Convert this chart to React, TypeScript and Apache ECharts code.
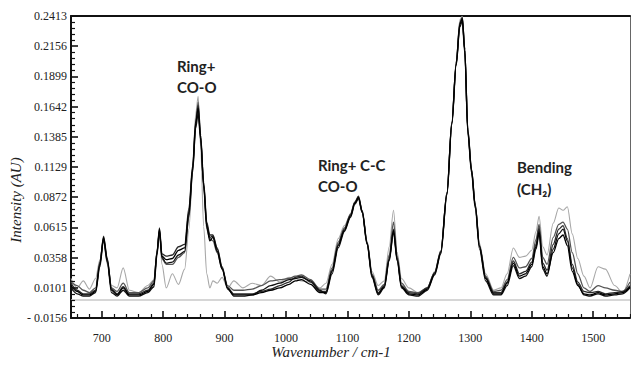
import React, { useEffect, useRef } from "react";
import * as echarts from "echarts";

// Raman shift grid (cm-1) shared by all spectra
const wavenumbers = [
  650, 660, 670, 680, 690, 697, 703, 709, 716, 725,
  735, 745, 760, 775, 785, 790, 794, 798, 805, 815,
  825, 835, 842, 848, 853, 857, 861, 866, 871, 876,
  881, 888, 896, 905, 915, 930, 945, 960, 975, 990,
  1005, 1015, 1025, 1040, 1055, 1065, 1075, 1085, 1095, 1105,
  1112, 1118, 1124, 1132, 1140, 1150, 1160, 1168, 1175, 1181,
  1188, 1200, 1215, 1230, 1242, 1252, 1262, 1270, 1277, 1283,
  1287, 1291, 1296, 1302, 1308, 1315, 1325, 1338, 1350, 1360,
  1370, 1380, 1390, 1400, 1407, 1412, 1418, 1425, 1435, 1444,
  1451, 1458, 1466, 1475, 1485, 1495, 1508, 1520, 1535, 1548,
  1560,
];

const spectrumA = [
  0.012, 0.007, 0.004, 0.004, 0.007, 0.030, 0.053, 0.034, 0.008, 0.004,
  0.010, 0.004, 0.004, 0.007, 0.013, 0.040, 0.060, 0.037, 0.034, 0.035,
  0.042, 0.044, 0.075, 0.112, 0.150, 0.163, 0.138, 0.097, 0.062, 0.050,
  0.053, 0.041, 0.026, 0.009, 0.004, 0.004, 0.004, 0.006, 0.008, 0.010,
  0.013, 0.016, 0.017, 0.013, 0.006, 0.006, 0.024, 0.046, 0.059, 0.071,
  0.082, 0.087, 0.075, 0.048, 0.020, 0.005, 0.011, 0.034, 0.059, 0.034,
  0.011, 0.005, 0.004, 0.009, 0.022, 0.040, 0.090, 0.150, 0.200, 0.234,
  0.239, 0.212, 0.143, 0.110, 0.080, 0.045, 0.018, 0.005, 0.005, 0.014,
  0.031, 0.020, 0.022, 0.030, 0.045, 0.058, 0.028, 0.022, 0.040, 0.052,
  0.055, 0.046, 0.024, 0.012, 0.005, 0.004, 0.006, 0.004, 0.005, 0.006,
  0.011,
];

const spectrumB = [
  0.010, 0.005, 0.003, 0.003, 0.006, 0.028, 0.051, 0.032, 0.006, 0.003,
  0.008, 0.003, 0.003, 0.006, 0.011, 0.038, 0.058, 0.036, 0.031, 0.032,
  0.038, 0.041, 0.072, 0.110, 0.146, 0.158, 0.136, 0.098, 0.064, 0.053,
  0.054, 0.043, 0.027, 0.010, 0.003, 0.003, 0.004, 0.008, 0.012, 0.014,
  0.017, 0.018, 0.019, 0.016, 0.008, 0.005, 0.022, 0.044, 0.058, 0.070,
  0.081, 0.086, 0.074, 0.047, 0.019, 0.004, 0.010, 0.033, 0.057, 0.033,
  0.010, 0.004, 0.003, 0.008, 0.021, 0.039, 0.089, 0.149, 0.199, 0.232,
  0.237, 0.210, 0.142, 0.108, 0.078, 0.043, 0.016, 0.004, 0.004, 0.012,
  0.029, 0.018, 0.020, 0.028, 0.043, 0.056, 0.026, 0.020, 0.043, 0.056,
  0.060, 0.050, 0.027, 0.013, 0.004, 0.003, 0.005, 0.003, 0.004, 0.005,
  0.010,
];

const spectrumC = [
  0.014, 0.008, 0.005, 0.005, 0.008, 0.031, 0.054, 0.035, 0.009, 0.005,
  0.011, 0.005, 0.005, 0.008, 0.014, 0.041, 0.061, 0.039, 0.037, 0.038,
  0.045, 0.047, 0.078, 0.114, 0.152, 0.165, 0.140, 0.100, 0.066, 0.055,
  0.055, 0.044, 0.028, 0.010, 0.005, 0.005, 0.005, 0.007, 0.009, 0.012,
  0.015, 0.019, 0.020, 0.015, 0.007, 0.007, 0.025, 0.047, 0.060, 0.072,
  0.083, 0.088, 0.076, 0.049, 0.021, 0.006, 0.012, 0.035, 0.060, 0.035,
  0.012, 0.006, 0.005, 0.010, 0.023, 0.041, 0.091, 0.151, 0.201, 0.235,
  0.240, 0.213, 0.144, 0.111, 0.081, 0.046, 0.019, 0.006, 0.006, 0.015,
  0.033, 0.022, 0.024, 0.032, 0.047, 0.061, 0.031, 0.025, 0.047, 0.060,
  0.063, 0.052, 0.030, 0.015, 0.007, 0.006, 0.007, 0.005, 0.006, 0.007,
  0.012,
];

const spectrumD = [
  0.015, 0.012, 0.008, 0.006, 0.010, 0.032, 0.052, 0.033, 0.010, 0.007,
  0.014, 0.006, 0.006, 0.010, 0.016, 0.040, 0.059, 0.035, 0.030, 0.030,
  0.036, 0.040, 0.070, 0.108, 0.148, 0.168, 0.140, 0.095, 0.060, 0.052,
  0.050, 0.040, 0.026, 0.012, 0.008, 0.008, 0.009, 0.012, 0.016, 0.017,
  0.018, 0.020, 0.021, 0.017, 0.009, 0.009, 0.027, 0.049, 0.061, 0.073,
  0.083, 0.087, 0.075, 0.048, 0.022, 0.008, 0.013, 0.038, 0.066, 0.037,
  0.014, 0.007, 0.006, 0.010, 0.023, 0.041, 0.091, 0.151, 0.201, 0.236,
  0.240, 0.213, 0.145, 0.111, 0.080, 0.046, 0.020, 0.007, 0.008, 0.017,
  0.036, 0.027, 0.028, 0.035, 0.051, 0.064, 0.036, 0.030, 0.053, 0.064,
  0.066, 0.060, 0.040, 0.022, 0.010, 0.007, 0.012, 0.010, 0.008, 0.007,
  0.015,
];

const spectrumLight = [
  0.018, 0.010, 0.016, 0.009, 0.018, 0.034, 0.050, 0.030, 0.012, 0.010,
  0.027, 0.008, 0.006, 0.012, 0.017, 0.042, 0.058, 0.030, 0.010, 0.022,
  0.013, 0.026, 0.060, 0.110, 0.158, 0.173, 0.130, 0.062, 0.022, 0.010,
  0.016, 0.014, 0.019, 0.010, 0.016, 0.010, 0.014, 0.012, 0.020, 0.015,
  0.019, 0.018, 0.016, 0.015, 0.010, 0.014, 0.030, 0.052, 0.063, 0.072,
  0.082, 0.086, 0.074, 0.050, 0.024, 0.012, 0.016, 0.045, 0.076, 0.040,
  0.018, 0.010, 0.006, 0.010, 0.024, 0.042, 0.092, 0.152, 0.203, 0.238,
  0.241, 0.215, 0.146, 0.110, 0.082, 0.048, 0.022, 0.008, 0.010, 0.022,
  0.044, 0.036, 0.037, 0.042, 0.058, 0.071, 0.045, 0.038, 0.065, 0.078,
  0.076, 0.079, 0.056, 0.035, 0.020, 0.010, 0.028, 0.026, 0.012, 0.006,
  0.022,
];

const xTickValues = [700, 800, 900, 1000, 1100, 1200, 1300, 1400, 1500];
const yTickValues = [
  -0.0156, 0.0101, 0.0358, 0.0615, 0.0872, 0.1129, 0.1385, 0.1642, 0.1899,
  0.2156, 0.2413,
];
const yTickLabels = [
  "- 0.0156", "0.0101", "0.0358", "0.0615", "0.0872", "0.1129", "0.1385",
  "0.1642", "0.1899", "0.2156", "0.2413",
];

const X_MIN = 650;
const X_MAX = 1560;
const Y_MIN = -0.0156;
const Y_MAX = 0.2413;

// plot box (px)
const GRID = { left: 71, top: 16, right: 1, bottom: 52 };
const WIDTH = 631;
const HEIGHT = 370;
const X_PER_PX = (X_MAX - X_MIN) / (WIDTH - GRID.left - GRID.right);
const Y_PER_PX = (Y_MAX - Y_MIN) / (HEIGHT - GRID.top - GRID.bottom);

const toPairs = (values: number[]) => wavenumbers.map((w, i) => [w, values[i]]);

// minor tick positions between the labelled ticks
const xMinor: number[] = [];
for (let v = 660; v <= X_MAX; v += 20) {
  if (!xTickValues.includes(v)) xMinor.push(v);
}
const yMinor: number[] = [];
for (let i = 0; i < yTickValues.length - 1; i++) {
  const a = yTickValues[i];
  const b = yTickValues[i + 1];
  for (let k = 1; k < 5; k++) yMinor.push(a + ((b - a) * k) / 5);
}

const AXIS = "#111111";
const serif = "Liberation Serif";

// inward tick marks as short marker segments in data space
const tickSegments = [
  ...xTickValues.map((v) => [
    { coord: [v, Y_MIN], lineStyle: { width: 1.6 } },
    { coord: [v, Y_MIN + 7 * Y_PER_PX] },
  ]),
  ...xMinor.map((v) => [
    { coord: [v, Y_MIN], lineStyle: { width: 1.2 } },
    { coord: [v, Y_MIN + 4 * Y_PER_PX] },
  ]),
  ...yTickValues.map((v) => [
    { coord: [X_MIN, v], lineStyle: { width: 1.6 } },
    { coord: [X_MIN + 7 * X_PER_PX, v] },
  ]),
  ...yMinor.map((v) => [
    { coord: [X_MIN, v], lineStyle: { width: 1.2 } },
    { coord: [X_MIN + 4 * X_PER_PX, v] },
  ]),
];

const frameAxis = {
  type: "value",
  axisTick: { show: false },
  axisLabel: { show: false },
  splitLine: { show: false },
};

export default function App() {
  const ref = useRef<HTMLDivElement>(null);

  useEffect(() => {
    if (!ref.current) return;
    const chart = echarts.init(ref.current, null, { renderer: "svg" });

    const trace = (name: string, data: number[], color: string, width: number, z: number) => ({
      name,
      type: "line",
      data: toPairs(data),
      showSymbol: false,
      smooth: 0.3,
      smoothMonotone: "x",
      lineStyle: { color, width },
      z,
    });

    chart.setOption({
      animation: false,
      backgroundColor: "#ffffff",
      grid: GRID,
      xAxis: [
        {
          type: "value",
          min: X_MIN,
          max: X_MAX,
          position: "bottom",
          axisLine: { show: true, onZero: false, lineStyle: { color: AXIS, width: 2 } },
          axisTick: { show: false },
          axisLabel: {
            customValues: xTickValues,
            margin: 14,
            fontFamily: serif,
            fontSize: 12,
            color: "#222",
            formatter: (v: number) => String(v),
          },
          splitLine: { show: false },
        },
        {
          ...frameAxis,
          min: X_MIN,
          max: X_MAX,
          position: "top",
          axisLine: { show: true, onZero: false, lineStyle: { color: AXIS, width: 2 } },
        },
      ],
      yAxis: [
        {
          type: "value",
          min: Y_MIN,
          max: Y_MAX,
          position: "left",
          axisLine: { show: true, onZero: false, lineStyle: { color: AXIS, width: 2 } },
          axisTick: { show: false },
          axisLabel: {
            customValues: yTickValues,
            margin: 4,
            fontFamily: serif,
            fontSize: 12,
            color: "#222",
            formatter: (v: number) => {
              const i = yTickValues.findIndex((t) => Math.abs(t - v) < 1e-6);
              return i >= 0 ? yTickLabels[i] : "";
            },
          },
          splitLine: { show: false },
        },
        {
          ...frameAxis,
          min: Y_MIN,
          max: Y_MAX,
          position: "right",
          axisLine: { show: true, onZero: false, lineStyle: { color: "#666", width: 1 } },
        },
      ],
      series: [
        {
          ...trace("spectrum L", spectrumLight, "#a8a8a8", 1.1, 2),
          markLine: {
            silent: true,
            symbol: "none",
            label: { show: false },
            lineStyle: { color: "#c9c9c9", width: 1.6, type: "solid" },
            data: [{ yAxis: 0 }],
          },
        },
        trace("spectrum D", spectrumD, "#555555", 1.3, 3),
        trace("spectrum C", spectrumC, "#2a2a2a", 1.3, 3),
        trace("spectrum B", spectrumB, "#111111", 1.3, 3),
        {
          ...trace("spectrum A", spectrumA, "#000000", 1.3, 4),
          markLine: {
            silent: true,
            symbol: "none",
            label: { show: false },
            lineStyle: { color: AXIS, width: 1.5, type: "solid" },
            data: tickSegments,
          },
        },
      ],
      graphic: [
        {
          type: "text",
          x: 331,
          y: 352,
          style: {
            text: "Wavenumber / cm-1",
            font: "italic 15px 'Liberation Serif'",
            fill: "#222",
            align: "center",
            verticalAlign: "middle",
          },
        },
        {
          type: "text",
          x: 16,
          y: 200,
          rotation: Math.PI / 2,
          style: {
            text: "Intensity (AU)",
            font: "italic 15px 'Liberation Serif'",
            fill: "#222",
            align: "center",
            verticalAlign: "middle",
          },
        },
        {
          type: "text",
          x: 177,
          y: 55,
          style: { text: "Ring+\nCO-O", font: "bold 15px Lato", lineHeight: 21, fill: "#222" },
        },
        {
          type: "text",
          x: 318,
          y: 154,
          style: { text: "Ring+ C-C\nCO-O", font: "bold 15px Lato", lineHeight: 21, fill: "#222" },
        },
        {
          type: "text",
          x: 517,
          y: 156,
          style: { text: "Bending\n(CH\u2082)", font: "bold 15px Lato", lineHeight: 22, fill: "#222" },
        },
      ],
    });

    return () => chart.dispose();
  }, []);

  return (
    <div
      ref={ref}
      style={{ position: "fixed", left: 0, top: 0, width: WIDTH, height: HEIGHT, background: "#fff" }}
    />
  );
}
